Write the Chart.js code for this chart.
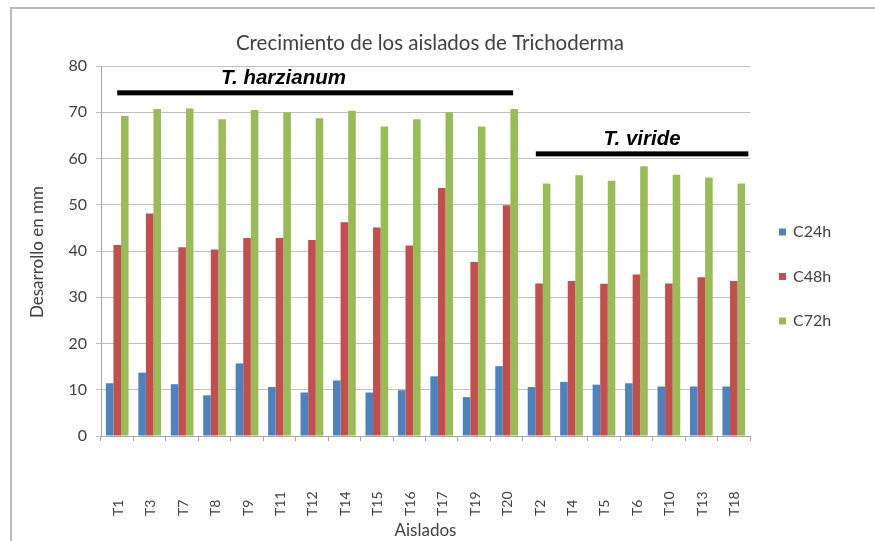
<!DOCTYPE html>
<html><head><meta charset="utf-8">
<script src="https://cdn.jsdelivr.net/npm/chart.js@4.4.0/dist/chart.umd.min.js"></script>
<style>
html,body{margin:0;padding:0;background:#fff;}
#wrap{position:relative;width:875px;height:541px;overflow:hidden;background:#fff;}
#frame{position:absolute;left:10px;top:7px;width:900px;height:600px;border-top:2px solid #bcbcbc;border-left:2px solid #bcbcbc;}
canvas{position:absolute;left:0;top:0;}
</style></head>
<body><div id="wrap"><div id="frame"></div><canvas id="c" width="875" height="541"></canvas></div>
<script>
const categories = ['T1','T3','T7','T8','T9','T11','T12','T14','T15','T16','T17','T19','T20','T2','T4','T5','T6','T10','T13','T18'];
const c24h = [11.4,13.7,11.2,8.8,15.7,10.6,9.4,12.0,9.4,9.9,12.9,8.4,15.1,10.6,11.7,11.1,11.4,10.7,10.7,10.7];
const c48h = [41.3,48.1,40.8,40.3,42.8,42.8,42.4,46.2,45.1,41.2,53.6,37.6,49.9,33.0,33.5,32.9,34.9,33.0,34.3,33.5];
const c72h = [69.2,70.7,70.8,68.5,70.5,70.0,68.7,70.3,66.9,68.5,70.0,66.9,70.7,54.6,56.4,55.2,58.3,56.5,55.9,54.6];
const seriesNames = ['C24h','C48h','C72h'];
const yMin = 0, yMax = 80, yStep = 10;
const chartTitle = 'Crecimiento de los aislados de Trichoderma';
const xTitle = 'Aislados';
const yTitle = 'Desarrollo en mm';
const groupNames = ['T. harzianum','T. viride'];
const groupFirst = ['T1','T2'];
const groupLast = ['T20','T18'];
const groupLevel = [74.2, 61.0];

const colors = ['#4F81BD','#C0504D','#9BBB59'];
const txt = '#404040';
const FONT = 'Lato, "Open Sans", sans-serif';

const decor = {
  id:'decor',
  afterDraw(chart){
    const ctx = chart.ctx, xs = chart.scales.x, ys = chart.scales.y, ca = chart.chartArea;
    ctx.save();
    // title
    ctx.fillStyle = txt;
    ctx.font = '20.5px ' + FONT;
    ctx.textAlign = 'center'; ctx.textBaseline = 'middle';
    ctx.fillText(chartTitle, 430, 43);
    // x labels (rotated, bottom aligned)
    ctx.font = '14px ' + FONT;
    categories.forEach((c,i)=>{
      const x = xs.getPixelForValue(i);
      ctx.save();
      ctx.translate(x+1, 516);
      ctx.rotate(-Math.PI/2);
      ctx.textAlign='left'; ctx.textBaseline='middle';
      ctx.fillText(c,0,0);
      ctx.restore();
    });
    // x title
    ctx.font = '17px ' + FONT;
    ctx.textAlign='center'; ctx.textBaseline='middle';
    ctx.fillText(xTitle, (ca.left+ca.right)/2, 531);
    // y title
    ctx.save();
    ctx.translate(38, 252);
    ctx.rotate(-Math.PI/2);
    ctx.fillText(yTitle,0,0);
    ctx.restore();
    // legend
    ctx.font = '16px ' + FONT;
    ctx.textAlign='left'; ctx.textBaseline='middle';
    seriesNames.forEach((n,i)=>{
      const y = 232 + i*44.5;
      ctx.fillStyle = colors[i];
      ctx.fillRect(779, y-3.5, 7, 7);
      ctx.fillStyle = txt;
      ctx.fillText(n, 793, y);
    });
    // group annotations
    const cw = xs.getPixelForValue(1) - xs.getPixelForValue(0);
    groupNames.forEach((g,k)=>{
      const i0 = categories.indexOf(groupFirst[k]);
      const i1 = categories.indexOf(groupLast[k]);
      const x0 = xs.getPixelForValue(i0) - (k===0 ? 0 : 0.1*cw);
      const x1 = xs.getPixelForValue(i1) + (k===0 ? 0.2*cw : 0.45*cw);
      const y = ys.getPixelForValue(groupLevel[k]);
      ctx.fillStyle = '#000';
      ctx.fillRect(x0, y-2.5, x1-x0, 5);
      ctx.font = 'italic bold 20.5px "Liberation Sans", Arial, sans-serif';
      ctx.textAlign='center'; ctx.textBaseline='alphabetic';
      const tx = k===0 ? x0 + (x1-x0)*0.42 : x0 + (x1-x0)*0.5;
      ctx.fillText(g, tx, y-9);
    });
    ctx.restore();
  }
};

new Chart(document.getElementById('c'), {
  type:'bar',
  data:{
    labels: categories,
    datasets:[
      {label:seriesNames[0], data:c24h, backgroundColor:colors[0]},
      {label:seriesNames[1], data:c48h, backgroundColor:colors[1]},
      {label:seriesNames[2], data:c72h, backgroundColor:colors[2]}
    ]
  },
  options:{
    responsive:false,
    animation:false,
    layout:{padding:{top:66,left:26,right:125,bottom:0}},
    datasets:{bar:{categoryPercentage:0.7, barPercentage:1.0}},
    plugins:{legend:{display:false}, title:{display:false}, tooltip:{enabled:false}},
    scales:{
      x:{
        grid:{display:true, drawOnChartArea:false, offset:true, tickLength:5, color:'#a6a6a6'},
        border:{display:true, color:'#a6a6a6'},
        ticks:{display:false},
        afterFit(s){ s.height = 105; }
      },
      y:{
        min:yMin, max:yMax,
        ticks:{stepSize:yStep, color:txt, font:{family:FONT, size:16}, padding:9},
        grid:{color:'#bfbfbf', tickLength:5},
        border:{display:true, color:'#a6a6a6'},
        afterFit(s){ s.width = 75; }
      }
    }
  },
  plugins:[decor]
});
</script>
</body></html>
